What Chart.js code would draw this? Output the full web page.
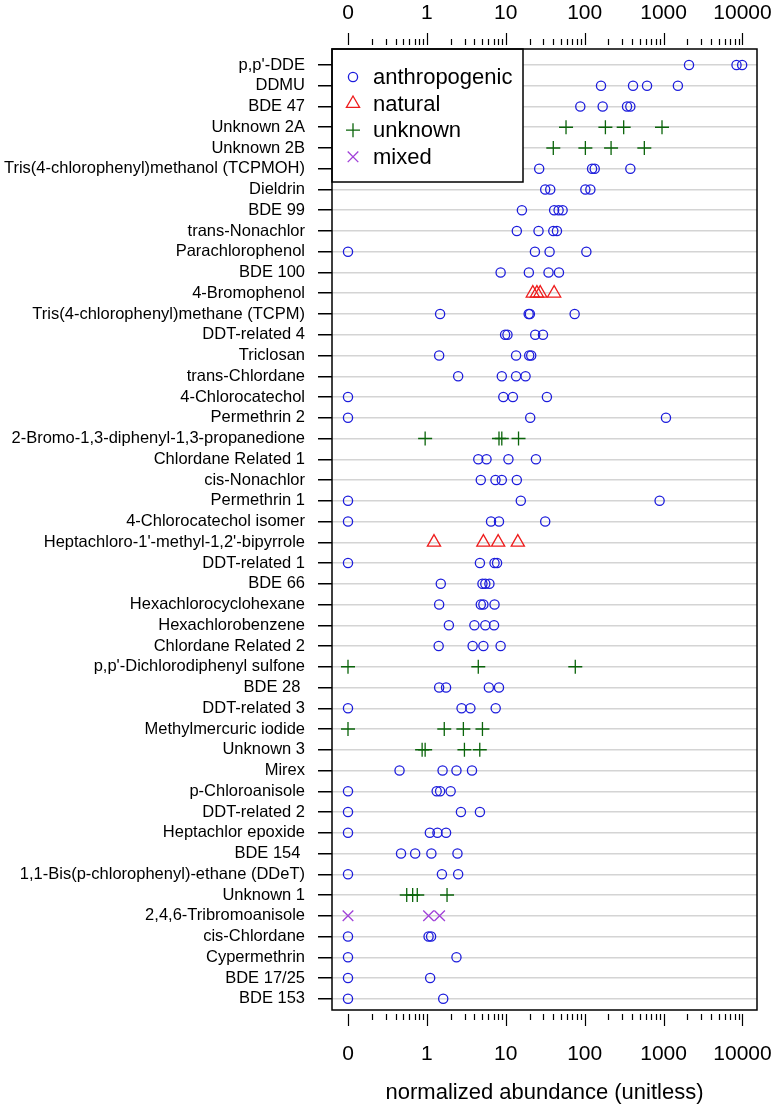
<!DOCTYPE html>
<html>

<head>
  <title>Normalized abundance</title>
  <script src="https://cdn.jsdelivr.net/npm/chart.js"></script>
  <style>
    body {
      margin: 0;
      background: #fff;
    }

    /* fixed size box so the canvas is exactly the picture size */
    .chart-box {
      width: 775px;
      height: 1108px;
      position: relative;
    }
  </style>
</head>

<body>
  <div class="chart-box">
    <canvas id="dotChart"></canvas>
  </div>

  <script>
    // Compounds, top to bottom
    const categories = [
      "p,p'-DDE", "DDMU", "BDE 47", "Unknown 2A", "Unknown 2B",
      "Tris(4-chlorophenyl)methanol (TCPMOH)", "Dieldrin", "BDE 99", "trans-Nonachlor",
      "Parachlorophenol", "BDE 100", "4-Bromophenol", "Tris(4-chlorophenyl)methane (TCPM)",
      "DDT-related 4", "Triclosan", "trans-Chlordane", "4-Chlorocatechol", "Permethrin 2",
      "2-Bromo-1,3-diphenyl-1,3-propanedione", "Chlordane Related 1", "cis-Nonachlor",
      "Permethrin 1", "4-Chlorocatechol isomer", "Heptachloro-1'-methyl-1,2'-bipyrrole",
      "DDT-related 1", "BDE 66", "Hexachlorocyclohexane", "Hexachlorobenzene",
      "Chlordane Related 2", "p,p'-Dichlorodiphenyl sulfone", "BDE 28 ", "DDT-related 3",
      "Methylmercuric iodide", "Unknown 3", "Mirex", "p-Chloroanisole", "DDT-related 2",
      "Heptachlor epoxide", "BDE 154 ", "1,1-Bis(p-chlorophenyl)-ethane (DDeT)", "Unknown 1",
      "2,4,6-Tribromoanisole", "cis-Chlordane", "Cypermethrin", "BDE 17/25", "BDE 153"
    ];

    // Source class of each compound (same order as categories)
    const sourceType = [
      "anthropogenic", "anthropogenic", "anthropogenic", "unknown", "unknown",
      "anthropogenic", "anthropogenic", "anthropogenic", "anthropogenic",
      "anthropogenic", "anthropogenic", "natural", "anthropogenic",
      "anthropogenic", "anthropogenic", "anthropogenic", "anthropogenic", "anthropogenic",
      "unknown", "anthropogenic", "anthropogenic",
      "anthropogenic", "anthropogenic", "natural",
      "anthropogenic", "anthropogenic", "anthropogenic", "anthropogenic",
      "anthropogenic", "unknown", "anthropogenic", "anthropogenic",
      "unknown", "unknown", "anthropogenic", "anthropogenic", "anthropogenic",
      "anthropogenic", "anthropogenic", "anthropogenic", "unknown",
      "mixed", "anthropogenic", "anthropogenic", "anthropogenic", "anthropogenic"
    ];

    // Normalized abundance per compound (one value per sample)
    const abundances = [
      [2100, 8400, 9900],
      [161, 410, 617, 1518],
      [88, 169, 344, 379],
      [58, 183, 312, 955],
      [40, 102, 216, 570],
      [26.5, 124, 134, 379],
      [31.6, 36.6, 102, 118],
      [16, 41, 46.7, 52.5],
      [13.8, 26, 40, 44.5],
      [0, 23.4, 35.9, 105],
      [8.6, 19.6, 34.8, 47.2],
      [22, 24.8, 27.3, 41],
      [1.47, 19.5, 20.2, 74.6],
      [9.8, 10.5, 23.6, 29.6],
      [1.43, 13.5, 19.8, 21],
      [2.49, 8.9, 13.5, 17.8],
      [0, 9.3, 12.3, 33.2],
      [0, 20.4, 1072],
      [0.95, 8.2, 8.9, 14.5],
      [4.48, 5.7, 10.8, 24.1],
      [4.82, 7.4, 8.9, 13.8],
      [0, 15.5, 890],
      [0, 6.5, 8.2, 31.6],
      [1.23, 5.2, 8.0, 14.2],
      [0, 4.7, 7.2, 7.75],
      [1.5, 5.06, 5.5, 6.2],
      [1.43, 4.82, 5.2, 7.2],
      [1.9, 4.0, 5.5, 7.1],
      [1.41, 3.8, 5.2, 8.6],
      [0, 4.48, 76],
      [1.43, 1.75, 6.1, 8.2],
      [0, 2.75, 3.56, 7.45],
      [0, 1.66, 2.9, 5.06],
      [0.87, 0.95, 2.99, 4.68],
      [0.45, 1.58, 2.37, 3.73],
      [0, 1.33, 1.47, 2.0],
      [0, 2.7, 4.7],
      [0, 1.09, 1.36, 1.75],
      [0.47, 0.71, 1.14, 2.44],
      [0, 1.55, 2.49],
      [0.555, 0.66, 0.755, 1.8],
      [0, 1.05, 1.45],
      [0, 1.05, 1.13],
      [0, 2.37],
      [0, 1.1],
      [0, 1.61]
    ];

    const legendLabels = ["anthropogenic", "natural", "unknown", "mixed"];
    const xTickValues = [0, 1, 10, 100, 1000, 10000];
    const xTitle = "normalized abundance (unitless)";

    // zero is drawn one decade below 1 on the log axis
    const zeroPosition = 0.1;

    const FONT = "'Liberation Sans', Arial, Helvetica, sans-serif";
    Chart.defaults.font.family = FONT;
    Chart.defaults.color = '#000';

    const styles = {
      anthropogenic: { pointStyle: 'circle', radius: 4.6, color: '#1c1cdc' },
      natural: { pointStyle: 'triangle', radius: 7.6, color: '#ee1c1c' },
      unknown: { pointStyle: 'cross', radius: 7, color: '#0a640a' },
      mixed: { pointStyle: 'crossRot', radius: 7.5, color: '#a040d8' }
    };

    const datasets = legendLabels.map(type => {
      const pts = [];
      categories.forEach((c, i) => {
        if (sourceType[i] !== type) return;
        abundances[i].forEach(v => pts.push({ x: v === 0 ? zeroPosition : v, y: i }));
      });
      const s = styles[type];
      return {
        label: type,
        data: pts,
        pointStyle: s.pointStyle,
        pointRadius: s.radius,
        pointBorderColor: s.color,
        pointBackgroundColor: 'rgba(0,0,0,0)',
        pointBorderWidth: 1.3,
        showLine: false
      };
    });

    // R-style axes: box, top & bottom log ticks, labels, title, legend
    const rAxesPlugin = {
      id: 'rAxes',
      afterDatasetsDraw(chart) {
        const ctx = chart.ctx;
        const a = chart.chartArea;
        // legend box in the top-left corner of the plot
        const lx = a.left, ly = a.top, lw = 191, lh = 133;
        ctx.save();
        ctx.fillStyle = '#fff';
        ctx.fillRect(lx, ly, lw, lh);
        ctx.strokeStyle = '#000';
        ctx.lineWidth = 1.5;
        ctx.strokeRect(lx, ly, lw, lh);
        ctx.font = '22px ' + FONT;
        ctx.textAlign = 'left';
        ctx.textBaseline = 'middle';
        legendLabels.forEach((lab, i) => {
          const s = styles[lab];
          const y = ly + 28 + i * 26.6;
          ctx.strokeStyle = s.color;
          ctx.fillStyle = 'rgba(0,0,0,0)';
          ctx.lineWidth = 1.3;
          Chart.helpers.drawPoint(ctx, { pointStyle: s.pointStyle, radius: s.radius, borderWidth: 1.3, rotation: 0 }, lx + 21, y);
          ctx.fillStyle = '#000';
          ctx.fillText(lab, lx + 41, y + 1);
        });
        ctx.restore();
      },
      afterDraw(chart) {
        const ctx = chart.ctx;
        const a = chart.chartArea;
        const x = chart.scales.x;
        ctx.save();
        ctx.strokeStyle = '#000';
        ctx.lineWidth = 1.5;
        ctx.strokeRect(a.left, a.top, a.right - a.left, a.bottom - a.top);

        const minors = [];
        for (let d = -1; d < 4; d++) {
          for (let k = 2; k <= 9; k++) minors.push(k * Math.pow(10, d));
        }
        ctx.lineWidth = 1.2;
        const tickAt = (v, len) => {
          const px = Math.round(x.getPixelForValue(v)) + 0.5;
          ctx.beginPath();
          ctx.moveTo(px, a.top - 4);
          ctx.lineTo(px, a.top - 4 - len);
          ctx.moveTo(px, a.bottom + 4);
          ctx.lineTo(px, a.bottom + 4 + len);
          ctx.stroke();
        };
        minors.forEach(v => tickAt(v, 6));
        xTickValues.forEach(v => tickAt(v === 0 ? zeroPosition : v, 12));

        ctx.fillStyle = '#000';
        ctx.font = '21px ' + FONT;
        ctx.textAlign = 'center';
        ctx.textBaseline = 'middle';
        xTickValues.forEach(v => {
          const px = x.getPixelForValue(v === 0 ? zeroPosition : v);
          ctx.fillText(String(v), px, 13);
          ctx.fillText(String(v), px, a.bottom + 44.5);
        });
        ctx.font = '22px ' + FONT;
        ctx.fillText(xTitle, (a.left + a.right) / 2, a.bottom + 83);
        ctx.restore();
      }
    };

    const chart = new Chart(document.getElementById('dotChart'), {
      type: 'scatter',
      data: { datasets },
      options: {
        responsive: true,
        maintainAspectRatio: false,
        devicePixelRatio: 1,
        animation: false,
        layout: { padding: { top: 49, bottom: 98, right: 18, left: 0 } },
        plugins: {
          legend: { display: false },
          tooltip: { enabled: false }
        },
        scales: {
          x: {
            type: 'logarithmic',
            display: false,
            min: Math.pow(10, -1.2028),
            max: Math.pow(10, 4.184)
          },
          y: {
            type: 'linear',
            reverse: true,
            min: -0.771,
            max: 45.542,
            afterBuildTicks: scale => {
              scale.ticks = categories.map((c, i) => ({ value: i }));
            },
            afterFit: scale => {
              scale.width = 332;
            },
            ticks: {
              autoSkip: false,
              padding: 13,
              color: '#000',
              font: { size: 16.5 },
              callback: v => categories[v]
            },
            grid: {
              color: '#d4d4d4',
              lineWidth: 1.5,
              tickColor: '#000',
              tickLength: 14,
              drawTicks: true
            },
            border: { display: false }
          }
        }
      },
      plugins: [rAxesPlugin]
    });
  </script>
</body>

</html>
